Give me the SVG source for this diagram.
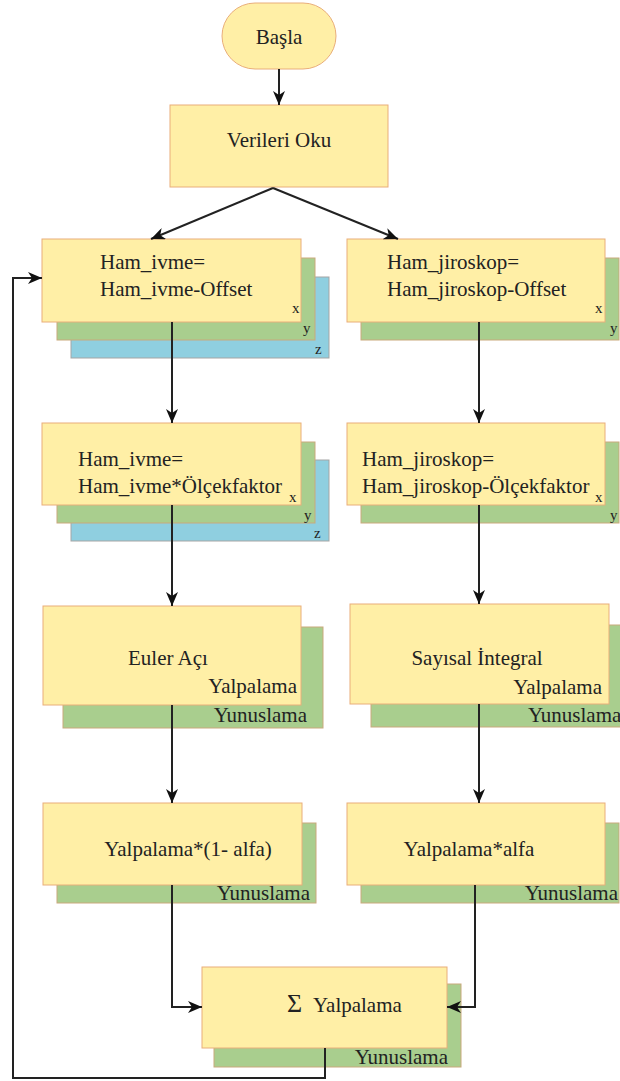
<svg xmlns="http://www.w3.org/2000/svg" width="620" height="1081" viewBox="0 0 620 1081">
  <defs>
    <marker id="arrow" viewBox="0 0 14 12" refX="14" refY="6" markerWidth="14" markerHeight="12" markerUnits="userSpaceOnUse" orient="auto">
      <path d="M0,0 L14,6 L0,12 L4,6 Z" fill="#111"/>
    </marker>
    <style>
      .box { fill: #FFEFA6; stroke: #E9AE7A; stroke-width: 1; }
      .lay2 { fill: #A9CE8E; stroke: #C9A97C; stroke-width: 1; }
      .lay3 { fill: #8FCFE0; stroke: #A5A5A5; stroke-width: 1; }
      .lbl { font-family: "Liberation Serif", "DejaVu Serif", serif; font-size: 21px; fill: #222; }
      .axis { font-family: "Liberation Serif", "DejaVu Serif", serif; font-size: 15px; fill: #222; }
      .mid { text-anchor: middle; }
      .end { text-anchor: end; }
      .conn { fill: none; stroke: #222; stroke-width: 2; }
    </style>
  </defs>
  <rect width="620" height="1081" fill="#fff"/>

  <!-- start -->
  <g id="start">
    <rect class="box" x="222" y="3" width="114" height="66" rx="33"/>
    <text class="lbl mid" x="279" y="44">Başla</text>
  </g>

  <!-- read sensors -->
  <g id="read">
    <rect class="box" x="170" y="105" width="218" height="82"/>
    <text class="lbl mid" x="279" y="147">Verileri Oku</text>
  </g>

  <!-- accelerometer offset, x/y/z -->
  <g id="acc-offset">
    <rect class="lay3" x="71" y="277" width="258" height="81"/>
    <rect class="lay2" x="57" y="258" width="258" height="82"/>
    <rect class="box" x="42" y="239" width="259" height="83"/>
    <text class="lbl" x="100" y="269">Ham_ivme=</text>
    <text class="lbl" x="100" y="296">Ham_ivme-Offset</text>
    <text class="axis" x="292" y="313">x</text>
    <text class="axis" x="303" y="333">y</text>
    <text class="axis" x="315" y="354">z</text>
  </g>

  <!-- gyroscope offset, x/y -->
  <g id="gyro-offset">
    <rect class="lay2" x="361" y="258" width="258" height="82"/>
    <rect class="box" x="347" y="239" width="258" height="83"/>
    <text class="lbl" x="387" y="269">Ham_jiroskop=</text>
    <text class="lbl" x="387" y="296">Ham_jiroskop-Offset</text>
    <text class="axis" x="595" y="313">x</text>
    <text class="axis" x="610" y="333">y</text>
  </g>

  <!-- accelerometer scale, x/y/z -->
  <g id="acc-scale">
    <rect class="lay3" x="71" y="460" width="258" height="81"/>
    <rect class="lay2" x="57" y="442" width="258" height="81"/>
    <rect class="box" x="42" y="423" width="259" height="82"/>
    <text class="lbl" x="78" y="466">Ham_ivme=</text>
    <text class="lbl" x="78" y="493">Ham_ivme*Ölçekfaktor</text>
    <text class="axis" x="289" y="502">x</text>
    <text class="axis" x="304" y="520">y</text>
    <text class="axis" x="314" y="538">z</text>
  </g>

  <!-- gyroscope scale, x/y -->
  <g id="gyro-scale">
    <rect class="lay2" x="361" y="442" width="258" height="81"/>
    <rect class="box" x="347" y="423" width="258" height="82"/>
    <text class="lbl" x="362" y="466">Ham_jiroskop=</text>
    <text class="lbl" x="362" y="493">Ham_jiroskop-Ölçekfaktor</text>
    <text class="axis" x="595" y="502">x</text>
    <text class="axis" x="610" y="520">y</text>
  </g>

  <!-- Euler angles -->
  <g id="euler">
    <rect class="lay2" x="63" y="627" width="260" height="101"/>
    <rect class="box" x="43" y="606" width="258" height="99"/>
    <text class="lbl mid" x="168" y="665">Euler Açı</text>
    <text class="lbl end" x="297" y="693">Yalpalama</text>
    <text class="lbl end" x="307" y="722">Yunuslama</text>
  </g>

  <!-- numerical integration -->
  <g id="integral">
    <rect class="lay2" x="371" y="625" width="260" height="102"/>
    <rect class="box" x="350" y="604" width="259" height="100"/>
    <text class="lbl mid" x="477" y="665">Sayısal İntegral</text>
    <text class="lbl end" x="602" y="694">Yalpalama</text>
    <text class="lbl" x="528" y="722">Yunuslama</text>
  </g>

  <!-- accelerometer weight -->
  <g id="acc-weight">
    <rect class="lay2" x="57" y="823" width="259" height="80"/>
    <rect class="box" x="43" y="803" width="259" height="82"/>
    <text class="lbl mid" x="188" y="856">Yalpalama*(1- alfa)</text>
    <text class="lbl end" x="310" y="900">Yunuslama</text>
  </g>

  <!-- gyroscope weight -->
  <g id="gyro-weight">
    <rect class="lay2" x="361" y="823" width="258" height="80"/>
    <rect class="box" x="347" y="803" width="258" height="82"/>
    <text class="lbl mid" x="469" y="856">Yalpalama*alfa</text>
    <text class="lbl end" x="618" y="900">Yunuslama</text>
  </g>

  <!-- sum -->
  <g id="sum">
    <rect class="lay2" x="214" y="984" width="247" height="83"/>
    <rect class="box" x="202" y="967" width="245" height="81"/>
    <text class="lbl" x="287" y="1012" font-size="26" style="font-size:26px">Σ</text>
    <text class="lbl" x="313" y="1012">Yalpalama</text>
    <text class="lbl end" x="448" y="1064">Yunuslama</text>
  </g>

  <!-- connectors -->
  <g id="connectors">
    <path class="conn" d="M279,69 V105" marker-end="url(#arrow)"/>
    <path class="conn" d="M273,188 L151,239" marker-end="url(#arrow)"/>
    <path class="conn" d="M273,188 L398,239" marker-end="url(#arrow)"/>
    <path class="conn" d="M172,322 V423" marker-end="url(#arrow)"/>
    <path class="conn" d="M479,322 V423" marker-end="url(#arrow)"/>
    <path class="conn" d="M172,505 V606" marker-end="url(#arrow)"/>
    <path class="conn" d="M479,505 V604" marker-end="url(#arrow)"/>
    <path class="conn" d="M172,705 V803" marker-end="url(#arrow)"/>
    <path class="conn" d="M479,704 V803" marker-end="url(#arrow)"/>
    <path class="conn" d="M172,885 V1007 H202" marker-end="url(#arrow)"/>
    <path class="conn" d="M475,885 V1007 H447" marker-end="url(#arrow)"/>
    <path class="conn" d="M325,1048 V1078 H13 V278 H42" marker-end="url(#arrow)"/>
  </g>
</svg>
